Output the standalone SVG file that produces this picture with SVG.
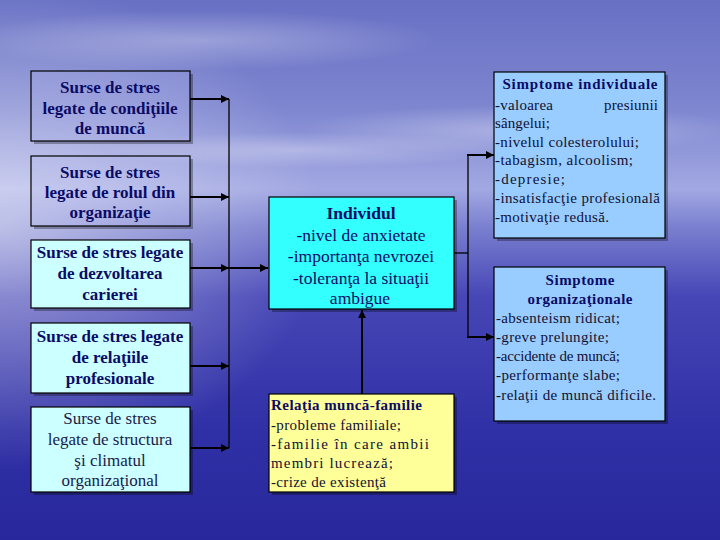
<svg xmlns="http://www.w3.org/2000/svg" width="720" height="540" viewBox="0 0 720 540">
<defs>
<linearGradient id="bg" x1="0" y1="0" x2="0" y2="1">
<stop offset="0" stop-color="#6870c4"/>
<stop offset="0.2" stop-color="#7e86d0"/>
<stop offset="0.35" stop-color="#a2a8e2"/>
<stop offset="0.42" stop-color="#7a80cf"/>
<stop offset="0.55" stop-color="#4646b6"/>
<stop offset="0.8" stop-color="#3030a6"/>
<stop offset="1" stop-color="#28289c"/>
</linearGradient>
<radialGradient id="glow" cx="0" cy="0.42" r="0.45">
<stop offset="0" stop-color="#ffffff" stop-opacity="0.5"/>
<stop offset="1" stop-color="#ffffff" stop-opacity="0"/>
</radialGradient>
<radialGradient id="cloud" cx="0.5" cy="0.5" r="0.5">
<stop offset="0" stop-color="#ffffff" stop-opacity="0.3"/>
<stop offset="1" stop-color="#ffffff" stop-opacity="0"/>
</radialGradient>
<marker id="ah" viewBox="0 0 10 10" refX="10" refY="5" markerWidth="4" markerHeight="4" orient="auto" markerUnits="strokeWidth">
<path d="M0,0 L10,5 L0,10 z" fill="#000"/>
</marker>
<style>
.sh{fill:#000;opacity:0.3}
.box{stroke:#000;stroke-width:1.2}
.trans{fill:#b4b8f0;fill-opacity:0.18}
.lc{fill:#ccffff}
.cy{fill:#33ffff}
.ye{fill:#ffff99}
.lb{fill:#99ccff}
text{font-family:'Liberation Serif','DejaVu Serif',serif}
.t{fill:#0b0b66}
.b17{font-size:17px;font-weight:bold;text-anchor:middle}
.n17{font-size:17px;text-anchor:middle;fill:#1a1a4a}
.i17{font-size:17.5px;text-anchor:middle}
.s15{font-size:15px;fill:#111133}
.h15{font-size:15px;font-weight:bold}
.c{text-anchor:middle}
.ln{stroke:#000;stroke-width:2;fill:none}
.vl{stroke:#000;stroke-width:1.3;fill:none}
</style>
</defs>
<rect x="0" y="0" width="720" height="540" fill="url(#bg)"/>
<rect x="0" y="0" width="720" height="540" fill="url(#glow)"/>
<ellipse cx="200" cy="40" rx="240" ry="30" fill="url(#cloud)"/>
<ellipse cx="520" cy="130" rx="220" ry="25" fill="url(#cloud)"/>
<ellipse cx="300" cy="150" rx="200" ry="18" fill="url(#cloud)"/>

<g id="connectors">
<line class="ln" x1="190" y1="99" x2="229" y2="99" marker-end="url(#ah)"/>
<line class="ln" x1="190" y1="197" x2="229" y2="197" marker-end="url(#ah)"/>
<line class="ln" x1="190" y1="268" x2="229" y2="268" marker-end="url(#ah)"/>
<line class="ln" x1="229" y1="268" x2="268" y2="268" marker-end="url(#ah)"/>
<line class="ln" x1="190" y1="366" x2="229" y2="366" marker-end="url(#ah)"/>
<line class="ln" x1="190" y1="448" x2="229" y2="448" marker-end="url(#ah)"/>
<line class="vl" x1="229" y1="99" x2="229" y2="448"/>
<line class="ln" x1="362" y1="394" x2="362" y2="310" marker-end="url(#ah)"/>
<line class="vl" x1="454" y1="253" x2="468" y2="253"/>
<line class="vl" x1="468" y1="155" x2="468" y2="337"/>
<line class="ln" x1="467" y1="155" x2="494" y2="155" marker-end="url(#ah)"/>
<line class="ln" x1="467" y1="337" x2="494" y2="337" marker-end="url(#ah)"/>
</g>

<g id="n1">
<path class="sh" d="M190,74 H193 V144 H34 V141 H190 Z"/>
<rect class="box trans" x="31" y="71" width="159" height="70"/>
<text class="t b17"><tspan x="110" y="93">Surse de stres</tspan><tspan x="110" y="114">legate de condiţiile</tspan><tspan x="110" y="134">de muncă</tspan></text>
</g>
<g id="n2">
<path class="sh" d="M190,159 H193 V229 H34 V226 H190 Z"/>
<rect class="box trans" x="31" y="156" width="159" height="70"/>
<text class="t b17"><tspan x="110" y="178">Surse de stres</tspan><tspan x="110" y="198">legate de rolul din</tspan><tspan x="110" y="218">organizaţie</tspan></text>
</g>
<g id="n3">
<rect class="sh" x="34" y="243" width="159" height="68"/>
<rect class="box lc" x="31" y="240" width="159" height="68"/>
<text class="t b17"><tspan x="110" y="258">Surse de stres legate</tspan><tspan x="110" y="279">de dezvoltarea</tspan><tspan x="110" y="300">carierei</tspan></text>
</g>
<g id="n4">
<rect class="sh" x="34" y="326" width="159" height="70"/>
<rect class="box lc" x="31" y="323" width="159" height="70"/>
<text class="t b17"><tspan x="110" y="342">Surse de stres legate</tspan><tspan x="110" y="363">de relaţiile</tspan><tspan x="110" y="384">profesionale</tspan></text>
</g>
<g id="n5">
<rect class="sh" x="34" y="410" width="159" height="85"/>
<rect class="box lc" x="31" y="407" width="159" height="85"/>
<text class="t n17"><tspan x="110" y="424">Surse de stres</tspan><tspan x="110" y="445">legate de structura</tspan><tspan x="110" y="466">şi climatul</tspan><tspan x="110" y="486">organizaţional</tspan></text>
</g>
<g id="individul">
<rect class="sh" x="272" y="200" width="185" height="112"/>
<rect class="box cy" x="269" y="197" width="185" height="112"/>
<text class="t i17"><tspan x="361" y="219" font-weight="bold">Individul</tspan><tspan x="361" y="241">-nivel de anxietate</tspan><tspan x="361" y="262">-importanţa nevrozei</tspan><tspan x="361" y="284">-toleranţa la situaţii</tspan><tspan x="360" y="304">ambigue</tspan></text>
</g>
<g id="relatia">
<rect class="sh" x="272" y="397" width="185" height="98"/>
<rect class="box ye" x="269" y="394" width="185" height="98"/>
<text class="t h15" x="271" y="410" textLength="151" lengthAdjust="spacing">Relaţia muncă-familie</text>
<text class="t s15" x="271" y="430" textLength="130" lengthAdjust="spacing">-probleme familiale;</text>
<text class="t s15" x="271" y="449" textLength="158" lengthAdjust="spacing">-familie în care ambii</text>
<text class="t s15" x="271" y="468" textLength="122" lengthAdjust="spacing">membri lucrează;</text>
<text class="t s15" x="271" y="487" textLength="115" lengthAdjust="spacing">-crize de existenţă</text>
</g>
<g id="simptome-individuale">
<rect class="sh" x="497" y="75" width="171" height="166"/>
<rect class="box lb" x="494" y="72" width="171" height="166"/>
<text class="t h15 c" x="580" y="89" textLength="155" lengthAdjust="spacing">Simptome individuale</text>
<text class="t s15" x="495" y="110" textLength="58" lengthAdjust="spacing">-valoarea</text>
<text class="t s15" x="604" y="110" textLength="54" lengthAdjust="spacing">presiunii</text>
<text class="t s15" x="495" y="128" textLength="55" lengthAdjust="spacing">sângelui;</text>
<text class="t s15" x="495" y="147" textLength="144" lengthAdjust="spacing">-nivelul colesterolului;</text>
<text class="t s15" x="495" y="165" textLength="138" lengthAdjust="spacing">-tabagism, alcoolism;</text>
<text class="t s15" x="495" y="184" textLength="70" lengthAdjust="spacing">-depresie;</text>
<text class="t s15" x="495" y="203" textLength="165" lengthAdjust="spacing">-insatisfacţie profesională</text>
<text class="t s15" x="495" y="222" textLength="114" lengthAdjust="spacing">-motivaţie redusă.</text>
</g>
<g id="simptome-organizationale">
<rect class="sh" x="497" y="270" width="171" height="154"/>
<rect class="box lb" x="494" y="267" width="171" height="154"/>
<text class="t h15 c" x="580" y="285" textLength="69" lengthAdjust="spacing">Simptome</text>
<text class="t h15 c" x="580" y="304" textLength="105" lengthAdjust="spacing">organizaţionale</text>
<text class="t s15" x="496" y="323" textLength="124" lengthAdjust="spacing">-absenteism ridicat;</text>
<text class="t s15" x="496" y="342" textLength="113" lengthAdjust="spacing">-greve prelungite;</text>
<text class="t s15" x="496" y="361" textLength="124" lengthAdjust="spacing">-accidente de muncă;</text>
<text class="t s15" x="496" y="380" textLength="124" lengthAdjust="spacing">-performanţe slabe;</text>
<text class="t s15" x="496" y="400" textLength="160" lengthAdjust="spacing">-relaţii de muncă dificile.</text>
</g>
</svg>
